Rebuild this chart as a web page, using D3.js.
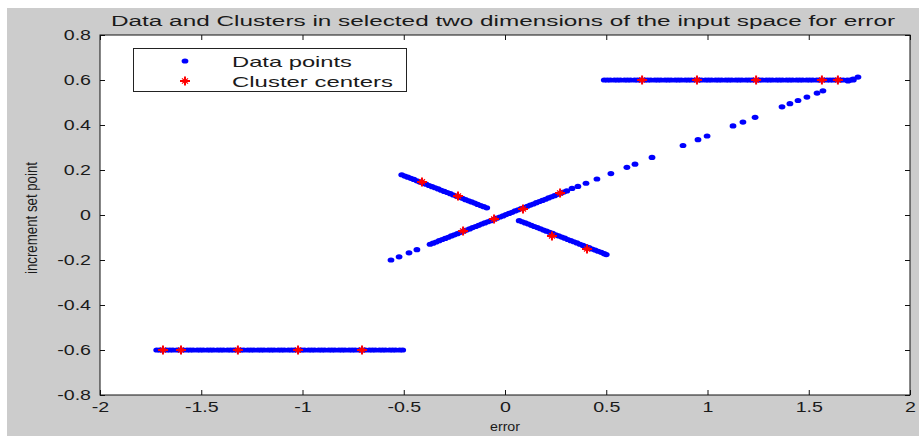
<!DOCTYPE html>
<html>
<head>
<meta charset="utf-8">
<script src="https://cdn.jsdelivr.net/npm/d3@7"></script>
<style>
  body { margin: 0; background: #fff; }
  svg { display: block; }
  text { font-family: "Liberation Sans", Arial, Helvetica, sans-serif; fill: #1a1a1a; }
</style>
</head>
<body>
<svg id="chart" width="919" height="436"></svg>
<script>
// Axis ticks
const xTicks = [-2, -1.5, -1, -0.5, 0, 0.5, 1, 1.5, 2];
const xTickLabels = ["-2", "-1.5", "-1", "-0.5", "0", "0.5", "1", "1.5", "2"];
const yTicks = [-0.8, -0.6, -0.4, -0.2, 0, 0.2, 0.4, 0.6, 0.8];
const yTickLabels = ["-0.8", "-0.6", "-0.4", "-0.2", "0", "0.2", "0.4", "0.6", "0.8"];

// Data points: upper band (increment set point = 0.6)
const upperBandLevel = 0.6;
const upperBandX = [0.49, 0.505, 0.52, 0.54, 0.555, 0.57, 0.59, 0.605, 0.62, 0.64, 0.655, 0.67,
  0.69, 0.705, 0.72, 0.74, 0.755, 0.77, 0.79, 0.805, 0.82, 0.84, 0.855, 0.87, 0.89, 0.905, 0.92,
  0.94, 0.955, 0.97, 0.99, 1.005, 1.02, 1.04, 1.055, 1.07, 1.09, 1.105, 1.12, 1.14, 1.155, 1.17,
  1.19, 1.205, 1.22, 1.24, 1.255, 1.27, 1.29, 1.305, 1.32, 1.34, 1.355, 1.37, 1.39, 1.405, 1.42,
  1.44, 1.455, 1.47, 1.49, 1.505, 1.52, 1.54, 1.555, 1.57, 1.59, 1.605, 1.62, 1.64, 1.655, 1.67,
  1.69, 1.705, 1.72];

// Data points: lower band (increment set point = -0.6)
const lowerBandLevel = -0.6;
const lowerBandX = [-1.72, -1.705, -1.69, -1.67, -1.655, -1.64, -1.62, -1.605, -1.59, -1.57,
  -1.555, -1.54, -1.52, -1.505, -1.49, -1.47, -1.455, -1.44, -1.42, -1.405, -1.39, -1.37, -1.355,
  -1.34, -1.32, -1.305, -1.29, -1.27, -1.255, -1.24, -1.22, -1.205, -1.19, -1.17, -1.155, -1.14,
  -1.12, -1.105, -1.09, -1.07, -1.055, -1.04, -1.02, -1.005, -0.99, -0.97, -0.955, -0.94, -0.92,
  -0.905, -0.89, -0.87, -0.855, -0.84, -0.82, -0.805, -0.79, -0.77, -0.755, -0.74, -0.72, -0.705,
  -0.69, -0.67, -0.655, -0.64, -0.62, -0.605, -0.59, -0.57, -0.555, -0.54, -0.52, -0.505];

// Data points: rising diagonal [error, increment]
const risingPoints = [
  [-0.563, -0.200], [-0.523, -0.186], [-0.474, -0.168], [-0.435, -0.154],
  [-0.370, -0.130], [-0.355, -0.125], [-0.340, -0.120], [-0.325, -0.114], [-0.310, -0.109],
  [-0.295, -0.104], [-0.280, -0.099], [-0.265, -0.093], [-0.250, -0.088], [-0.235, -0.083],
  [-0.220, -0.077], [-0.205, -0.072], [-0.190, -0.067], [-0.175, -0.062], [-0.160, -0.056],
  [-0.145, -0.051], [-0.130, -0.046], [-0.115, -0.040], [-0.100, -0.035], [-0.085, -0.030],
  [-0.070, -0.025], [-0.055, -0.019], [-0.040, -0.014], [-0.025, -0.009], [-0.010, -0.004],
  [0.005, 0.002], [0.020, 0.007], [0.035, 0.012], [0.050, 0.018], [0.065, 0.023], [0.080, 0.028],
  [0.095, 0.033], [0.110, 0.039], [0.125, 0.044], [0.140, 0.049], [0.155, 0.055], [0.170, 0.060],
  [0.185, 0.065], [0.200, 0.070], [0.215, 0.076], [0.230, 0.081], [0.245, 0.086], [0.260, 0.092],
  [0.275, 0.097], [0.290, 0.102], [0.305, 0.107],
  [0.331, 0.118], [0.360, 0.127], [0.400, 0.141], [0.454, 0.160], [0.523, 0.184],
  [0.602, 0.212], [0.642, 0.226], [0.726, 0.256], [0.879, 0.309], [0.953, 0.335],
  [0.998, 0.351], [1.126, 0.396], [1.175, 0.413], [1.235, 0.434], [1.368, 0.481],
  [1.407, 0.495], [1.447, 0.509], [1.491, 0.524], [1.541, 0.542], [1.570, 0.552],
  [1.694, 0.596], [1.719, 0.604], [1.743, 0.613]
];

// Data points: falling diagonal [error, increment]
const fallingPoints = [
  [-0.510, 0.179], [-0.495, 0.173], [-0.480, 0.168], [-0.465, 0.163], [-0.450, 0.158],
  [-0.435, 0.152], [-0.420, 0.147], [-0.405, 0.142], [-0.390, 0.137], [-0.375, 0.131],
  [-0.360, 0.126], [-0.345, 0.121], [-0.330, 0.116], [-0.315, 0.110], [-0.300, 0.105],
  [-0.285, 0.100], [-0.270, 0.095], [-0.255, 0.089], [-0.240, 0.084], [-0.225, 0.079],
  [-0.210, 0.074], [-0.195, 0.068], [-0.180, 0.063], [-0.165, 0.058], [-0.150, 0.053],
  [-0.135, 0.047], [-0.120, 0.042], [-0.105, 0.037], [-0.090, 0.032],
  [0.070, -0.025], [0.085, -0.030], [0.100, -0.035], [0.115, -0.040], [0.130, -0.046],
  [0.145, -0.051], [0.160, -0.056], [0.175, -0.061], [0.190, -0.067], [0.205, -0.072],
  [0.220, -0.077], [0.235, -0.082], [0.250, -0.088], [0.265, -0.093], [0.280, -0.098],
  [0.295, -0.103], [0.310, -0.109], [0.325, -0.114], [0.340, -0.119], [0.355, -0.124],
  [0.370, -0.130], [0.385, -0.135], [0.400, -0.140], [0.415, -0.145], [0.430, -0.151],
  [0.445, -0.156], [0.460, -0.161], [0.475, -0.166], [0.490, -0.172], [0.500, -0.176]
];

// Cluster centers [error, increment]
const clusterCenters = [
  [0.677, 0.6], [0.948, 0.6], [1.240, 0.6], [1.565, 0.6], [1.644, 0.6],
  [-1.689, -0.6], [-1.600, -0.6], [-1.319, -0.6], [-1.022, -0.6], [-0.706, -0.6],
  [-0.410, 0.147], [-0.232, 0.084], [0.272, 0.098], [0.089, 0.027], [-0.054, -0.018],
  [-0.207, -0.071], [0.232, -0.093], [0.405, -0.151]
];

const titleText = "Data and Clusters in selected two dimensions of the input space for error";
const xLabel = "error";
const yLabel = "increment set point";
const legendLabels = ["Data points", "Cluster centers"];

const svg = d3.select("#chart");
const W = 919, H = 436;
const plot = { left: 100, right: 910, top: 35, bottom: 395 };
const STRETCH = 1.4;

// widen text horizontally
function widen(sel, factor) {
  sel.each(function () {
    const len = this.getComputedTextLength();
    d3.select(this).attr("textLength", len * factor).attr("lengthAdjust", "spacingAndGlyphs");
  });
}

// figure background
svg.append("rect").attr("x", 0).attr("y", 0).attr("width", W).attr("height", H).attr("fill", "#fff");
svg.append("rect").attr("x", 7).attr("y", 8).attr("width", W - 7).attr("height", H - 8).attr("fill", "#cccccc");

const defs = svg.append("defs");
defs.append("filter").attr("id", "soft").attr("x", "-20%").attr("y", "-20%").attr("width", "140%").attr("height", "140%")
  .append("feGaussianBlur").attr("stdDeviation", 0.6);

const x = d3.scaleLinear().domain([-2, 2]).range([plot.left, plot.right]);
const y = d3.scaleLinear().domain([-0.8, 0.8]).range([plot.bottom, plot.top]);

// axes area
svg.append("rect")
  .attr("x", plot.left).attr("y", plot.top)
  .attr("width", plot.right - plot.left).attr("height", plot.bottom - plot.top)
  .attr("fill", "#fff");

function styleAxis(g) {
  g.select(".domain").remove();
  g.selectAll(".tick line").attr("stroke", "#111");
  g.attr("font-family", null).attr("font-size", null);
  g.selectAll("text").attr("font-size", 14).attr("fill", "#1a1a1a");
}

const gx = svg.append("g").attr("transform", `translate(0,${plot.bottom})`)
  .call(d3.axisBottom(x).tickValues(xTicks).tickSize(-5).tickPadding(7)
    .tickFormat((d, i) => xTickLabels[i]))
  .call(styleAxis);
svg.append("g").attr("transform", `translate(0,${plot.top})`)
  .call(d3.axisTop(x).tickValues(xTicks).tickSize(-5).tickFormat(""))
  .call(styleAxis);
const gy = svg.append("g").attr("transform", `translate(${plot.left},0)`)
  .call(d3.axisLeft(y).tickValues(yTicks).tickSize(-5).tickPadding(9)
    .tickFormat((d, i) => yTickLabels[i]))
  .call(styleAxis);
svg.append("g").attr("transform", `translate(${plot.right},0)`)
  .call(d3.axisRight(y).tickValues(yTicks).tickSize(-5).tickFormat(""))
  .call(styleAxis);

widen(gx.selectAll("text"), STRETCH);
widen(gy.selectAll("text"), STRETCH);

// data points
const marks = svg.append("g").attr("filter", "url(#soft)");
const dotData = []
  .concat(upperBandX.map(v => [v, upperBandLevel]))
  .concat(lowerBandX.map(v => [v, lowerBandLevel]))
  .concat(risingPoints)
  .concat(fallingPoints);

marks.append("g").selectAll("ellipse").data(dotData).join("ellipse")
  .attr("cx", d => x(d[0])).attr("cy", d => y(d[1]))
  .attr("rx", 3.4).attr("ry", 2.6)
  .attr("fill", "#0000ff");

// cluster centers ('*' marker drawn as a bold plus with short diagonals)
function drawStar(g) {
  g.append("path").attr("d", "M-5,0H5M0,-4.5V4.5")
    .attr("fill", "none").attr("stroke", "#ff0000").attr("stroke-width", 2);
  g.append("path").attr("d", "M-3,-2.6L3,2.6M-3,2.6L3,-2.6")
    .attr("fill", "none").attr("stroke", "#ff0000").attr("stroke-width", 1.2);
}
marks.append("g").selectAll("g").data(clusterCenters).join("g")
  .attr("transform", d => `translate(${x(d[0])},${y(d[1])})`)
  .each(function () { drawStar(d3.select(this)); });

// axes box
svg.append("rect")
  .attr("x", plot.left).attr("y", plot.top)
  .attr("width", plot.right - plot.left).attr("height", plot.bottom - plot.top)
  .attr("fill", "none").attr("stroke", "#111").attr("stroke-width", 1);

// title
svg.append("text")
  .attr("x", 503).attr("y", 26)
  .attr("text-anchor", "middle").attr("font-size", 14)
  .attr("textLength", 784).attr("lengthAdjust", "spacingAndGlyphs")
  .text(titleText);

// x label
svg.append("text")
  .attr("x", x(0)).attr("y", 431)
  .attr("text-anchor", "middle").attr("font-size", 13)
  .attr("textLength", 30).attr("lengthAdjust", "spacingAndGlyphs")
  .text(xLabel);

// y label
svg.append("text")
  .attr("transform", "translate(37,218) rotate(-90) scale(1,1.4)")
  .attr("text-anchor", "middle").attr("font-size", 12)
  .attr("textLength", 112).attr("lengthAdjust", "spacingAndGlyphs")
  .text(yLabel);

// legend
const legend = svg.append("g");
legend.append("rect")
  .attr("x", 133.5).attr("y", 48.5).attr("width", 273).attr("height", 43)
  .attr("fill", "#fff").attr("stroke", "#222").attr("stroke-width", 1);
const legendRows = [61, 81];
const legendMarks = legend.append("g").attr("filter", "url(#soft)");
legendMarks.append("ellipse")
  .attr("cx", 185).attr("cy", legendRows[0]).attr("rx", 3.4).attr("ry", 2.6).attr("fill", "#0000ff");
legendMarks.append("g").attr("transform", `translate(185,${legendRows[1]})`)
  .call(drawStar);
const legendWidths = [120, 161];
legend.selectAll("text.lbl").data(legendLabels).join("text")
  .attr("class", "lbl")
  .attr("x", 232).attr("y", (d, i) => legendRows[i] + 5.5)
  .attr("font-size", 15)
  .attr("textLength", (d, i) => legendWidths[i]).attr("lengthAdjust", "spacingAndGlyphs")
  .text(d => d);
</script>
</body>
</html>
